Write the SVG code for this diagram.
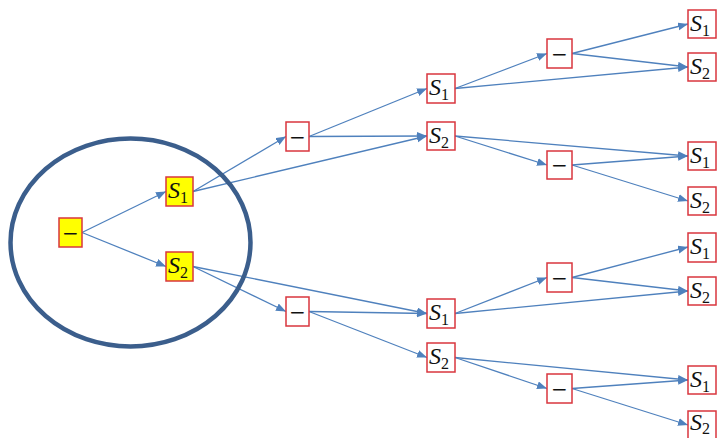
<svg xmlns="http://www.w3.org/2000/svg" width="717" height="438" viewBox="0 0 717 438">
<style>
.box{fill:#fff;stroke:#D9363E;stroke-width:1.5}
.ybox{fill:#FFFF00;stroke:#D9363E;stroke-width:1.5}
.s{font-family:"Liberation Serif",serif;font-style:italic;font-size:24px;fill:#111}
.sub{font-style:normal;font-size:16px}
.d{font-family:"DejaVu Sans",sans-serif;font-size:20px;fill:#111;text-anchor:middle}
.c line{stroke:#4F81BD;stroke-width:1.3;marker-end:url(#ah)}
</style>
<defs>
<marker id="ah" markerUnits="userSpaceOnUse" markerWidth="11" markerHeight="9" refX="10" refY="4" orient="auto">
<path d="M0,0 L10,4 L0,8 z" fill="#4F81BD"/>
</marker>
</defs>
<rect width="717" height="438" fill="#fff"/>
<g id="connectors" class="c">
<line x1="82" y1="232.5" x2="166" y2="191.5"/>
<line x1="82" y1="232.5" x2="166" y2="266.5"/>
<line x1="193" y1="191.5" x2="286" y2="136.5"/>
<line x1="193" y1="191.5" x2="427" y2="136"/>
<line x1="193" y1="266.5" x2="427" y2="313.5"/>
<line x1="193" y1="266.5" x2="286" y2="311.5"/>
<line x1="309" y1="136.5" x2="427" y2="88.5"/>
<line x1="309" y1="136.5" x2="427" y2="136"/>
<line x1="309" y1="311.5" x2="427" y2="313.5"/>
<line x1="309" y1="311.5" x2="427" y2="357.5"/>
<line x1="455" y1="88.5" x2="547" y2="53.5"/>
<line x1="455" y1="88.5" x2="688" y2="67"/>
<line x1="572" y1="53.5" x2="688" y2="24"/>
<line x1="572" y1="53.5" x2="688" y2="67"/>
<line x1="455" y1="136" x2="688" y2="156"/>
<line x1="455" y1="136" x2="547" y2="165"/>
<line x1="572" y1="165" x2="688" y2="156"/>
<line x1="572" y1="165" x2="688" y2="201"/>
<line x1="455" y1="313.5" x2="547" y2="277.5"/>
<line x1="455" y1="313.5" x2="688" y2="291"/>
<line x1="572" y1="277.5" x2="688" y2="247"/>
<line x1="572" y1="277.5" x2="688" y2="291"/>
<line x1="455" y1="357.5" x2="688" y2="380"/>
<line x1="455" y1="357.5" x2="547" y2="388.5"/>
<line x1="572" y1="388.5" x2="688" y2="380"/>
<line x1="572" y1="388.5" x2="688" y2="425"/>
</g>
<g id="root"><rect class="ybox" x="59" y="218" width="23" height="29"/><text class="d" x="70.5" y="239.5">−</text></g>
<g id="a1"><rect class="ybox" x="166" y="177" width="27" height="29"/><text class="s" x="168" y="198">S<tspan class="sub" dy="5">1</tspan></text></g>
<g id="a2"><rect class="ybox" x="166" y="252" width="27" height="29"/><text class="s" x="168" y="273">S<tspan class="sub" dy="5">2</tspan></text></g>
<g id="d1"><rect class="box" x="286" y="122" width="23" height="29"/><text class="d" x="297.5" y="143.5">−</text></g>
<g id="d2"><rect class="box" x="286" y="297" width="23" height="29"/><text class="d" x="297.5" y="318.5">−</text></g>
<g id="b1"><rect class="box" x="427" y="74" width="28" height="29"/><text class="s" x="429" y="95">S<tspan class="sub" dy="5">1</tspan></text></g>
<g id="b2"><rect class="box" x="427" y="122" width="28" height="28"/><text class="s" x="429" y="143">S<tspan class="sub" dy="5">2</tspan></text></g>
<g id="b3"><rect class="box" x="427" y="299" width="28" height="29"/><text class="s" x="429" y="320">S<tspan class="sub" dy="5">1</tspan></text></g>
<g id="b4"><rect class="box" x="427" y="343" width="28" height="29"/><text class="s" x="429" y="364">S<tspan class="sub" dy="5">2</tspan></text></g>
<g id="e1"><rect class="box" x="547" y="39" width="25" height="29"/><text class="d" x="559.5" y="60.5">−</text></g>
<g id="e2"><rect class="box" x="547" y="151" width="25" height="28"/><text class="d" x="559.5" y="172">−</text></g>
<g id="e3"><rect class="box" x="547" y="263" width="25" height="29"/><text class="d" x="559.5" y="284.5">−</text></g>
<g id="e4"><rect class="box" x="547" y="374" width="25" height="29"/><text class="d" x="559.5" y="395.5">−</text></g>
<g id="l1"><rect class="box" x="688" y="10" width="28" height="28"/><text class="s" x="690" y="31">S<tspan class="sub" dy="5">1</tspan></text></g>
<g id="l2"><rect class="box" x="688" y="53" width="28" height="28"/><text class="s" x="690" y="74">S<tspan class="sub" dy="5">2</tspan></text></g>
<g id="l3"><rect class="box" x="688" y="142" width="28" height="28"/><text class="s" x="690" y="163">S<tspan class="sub" dy="5">1</tspan></text></g>
<g id="l4"><rect class="box" x="688" y="187" width="28" height="28"/><text class="s" x="690" y="208">S<tspan class="sub" dy="5">2</tspan></text></g>
<g id="l5"><rect class="box" x="688" y="233" width="28" height="29"/><text class="s" x="690" y="254">S<tspan class="sub" dy="5">1</tspan></text></g>
<g id="l6"><rect class="box" x="688" y="277" width="28" height="28"/><text class="s" x="690" y="298">S<tspan class="sub" dy="5">2</tspan></text></g>
<g id="l7"><rect class="box" x="688" y="366" width="28" height="28"/><text class="s" x="690" y="387">S<tspan class="sub" dy="5">1</tspan></text></g>
<g id="l8"><rect class="box" x="688" y="411" width="28" height="28"/><text class="s" x="690" y="430">S<tspan class="sub" dy="4">2</tspan></text></g>
<ellipse cx="130.5" cy="242.5" rx="120" ry="104" fill="none" stroke="#3B5E8C" stroke-width="4.5"/>
</svg>
